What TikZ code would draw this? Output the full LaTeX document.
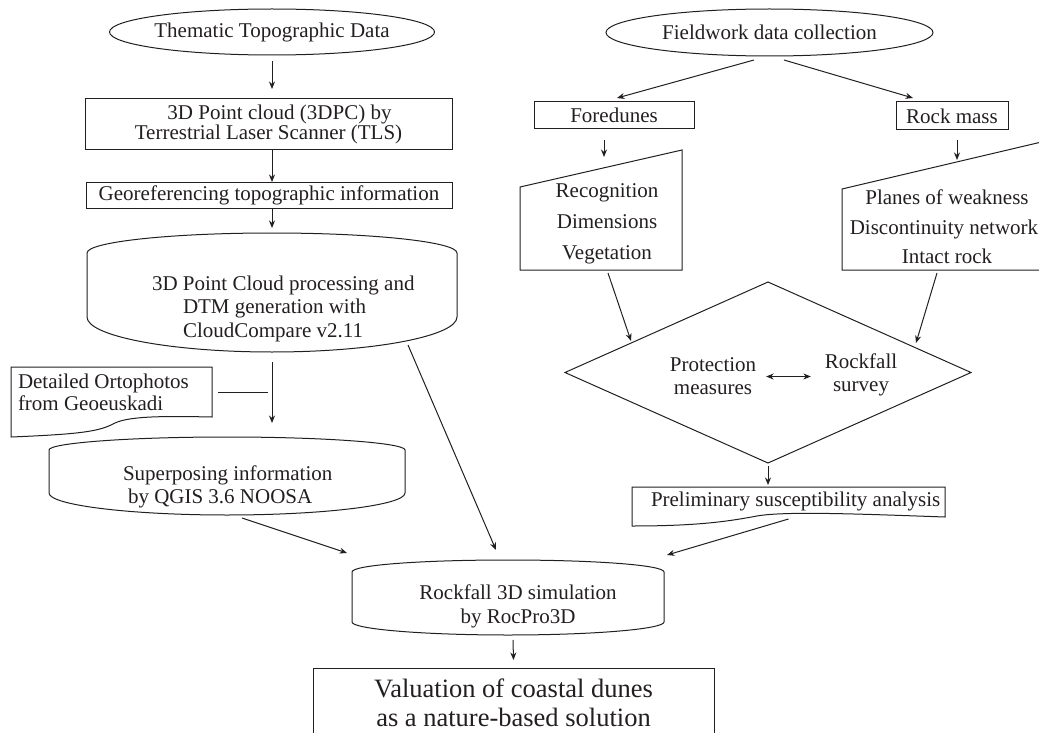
\documentclass[tikz,border=0pt]{standalone}
\usepackage{fontspec}
\setmainfont{Liberation Serif}
\usetikzlibrary{arrows.meta,calc,shapes.geometric}
\definecolor{ink}{RGB}{35,31,32}
\begin{document}
\begin{tikzpicture}[x=1pt,y=-1pt, color=ink, line width=1pt,
  font=\fontsize{21}{24}\selectfont,
  frame/.style={inner sep=0pt, outer sep=0pt},
  box/.style={draw, rectangle, inner sep=0pt, outer sep=0pt},
  txt/.style={inner sep=0pt, outer sep=0pt},
  arr/.style={-{Stealth[length=7.5pt,width=6pt]}},
  dbl/.style={{Stealth[length=7.5pt,width=6pt]}-{Stealth[length=7.5pt,width=6pt]}}]
\clip (0,0) rectangle (1039,733);

% ---------- left column ----------
\node[draw, ellipse, minimum width=325pt, minimum height=46pt, inner sep=0pt, outer sep=0pt] (E1) at (272,32) {};
\node[txt] (E1t) at (E1) {Thematic Topographic Data};

\node[box, minimum width=367pt, minimum height=51pt, align=center, font=\fontsize{21}{20}\selectfont] (B1) at (268.5,124.5) {\hspace*{22pt}3D Point cloud (3DPC) by\\Terrestrial Laser Scanner (TLS)};

\node[box, minimum width=366pt, minimum height=26pt] (B2) at (269,195) {Georeferencing topographic information};

\node[frame, minimum width=370pt, minimum height=119pt] (C1) at (272,292.5) {};
\draw (87,253) .. controls (87,242) and (170,233) .. (272,233) .. controls (374,233) and (457,242) .. (457,253) -- (457,317) .. controls (457,336) and (374,352) .. (272,352) .. controls (170,352) and (87,336) .. (87,317) -- cycle;
\node[txt, anchor=west, align=left, font=\fontsize{21}{23.5}\selectfont] (C1t) at (152,308.5) {3D Point Cloud processing and\\\hspace*{31pt}DTM generation with\\\hspace*{31pt}CloudCompare v2.11};

\node[frame, minimum width=201pt, minimum height=70pt] (D1) at (111.5,402) {};
\draw (11,367) -- (212,367) -- (212,417) .. controls (165,416) and (130,416) .. (115,423) .. controls (100,431) and (85,434) .. (11,437) -- cycle;
\node[txt, anchor=west, align=left, font=\fontsize{21}{22}\selectfont] (D1t) at (18,392) {Detailed Ortophotos\\from Geoeuskadi};

\node[frame, minimum width=356pt, minimum height=78pt] (C2) at (227,476) {};
\draw (49,450) .. controls (49,443) and (129,437) .. (227,437) .. controls (325,437) and (405,443) .. (405,450) -- (405,493) .. controls (405,505) and (325,515) .. (227,515) .. controls (129,515) and (49,505) .. (49,493) -- cycle;
\node[txt, anchor=west, align=left, font=\fontsize{21}{23}\selectfont] (C2t) at (123,486.5) {Superposing information\\\hspace*{5pt}by QGIS 3.6 NOOSA};

\node[frame, minimum width=312pt, minimum height=75pt] (C3) at (508,597.5) {};
\draw (352,572) .. controls (352,565) and (422,560) .. (508,560) .. controls (594,560) and (664,565) .. (664,572) -- (664,622) .. controls (664,629) and (594,635) .. (508,635) .. controls (422,635) and (352,629) .. (352,622) -- cycle;
\node[txt, align=center, font=\fontsize{21}{24}\selectfont] (C3t) at (518,606) {Rockfall 3D simulation\\by RocPro3D};

\node[box, minimum width=401pt, minimum height=69pt, align=center, font=\fontsize{26.5}{29}\selectfont] (F) at (513.5,702.5) {Valuation of coastal dunes\\as a nature-based solution};

% ---------- right column ----------
\node[draw, ellipse, minimum width=327pt, minimum height=47pt, inner sep=0pt, outer sep=0pt] (E2) at (769.5,32.5) {};
\node[txt] (E2t) at (E2) {Fieldwork data collection};

\node[box, minimum width=160pt, minimum height=27pt] (Fore) at (614,115.5) {Foredunes};
\node[box, minimum width=112pt, minimum height=28pt] (Rock) at (952,116) {Rock mass};

\node[frame, minimum width=162pt, minimum height=120pt] (M1) at (601,210) {};
\draw (M1.south west) -- ($(M1.north west)+(0,37)$) -- (M1.north east) -- (M1.south east) -- cycle;
\node[txt, align=center, font=\fontsize{21}{31}\selectfont] (M1t) at (607,224) {Recognition\\Dimensions\\Vegetation};

\node[frame, minimum width=208pt, minimum height=130pt] (M2) at (946,205) {};
\draw (M2.south west) -- ($(M2.north west)+(0,49)$) -- (M2.north east) -- (M2.south east) -- cycle;
\node[txt, align=center, font=\fontsize{21}{29.5}\selectfont] (M2t) at (944,227) {\hspace*{6pt}Planes of weakness\\Discontinuity network\\\hspace*{6pt}Intact rock};

\node[draw, diamond, minimum width=406pt, minimum height=181pt, inner sep=0pt, outer sep=0pt] (Dia) at (768,372.5) {};
\node[txt, align=center, font=\fontsize{21}{23}\selectfont] (Prot) at (713,376.5) {Protection\\measures};
\node[txt, align=center, font=\fontsize{21}{23}\selectfont] (Rockf) at (861,375) {Rockfall\\survey};

\node[frame, minimum width=313pt, minimum height=39pt] (D2) at (788.5,506.5) {};
\draw (632,487) -- (945,487) -- (945,517) .. controls (860,514) and (785,511) .. (757,516) .. controls (730,521) and (700,526) .. (632,526) -- cycle;
\node[txt, anchor=west] (D2t) at (651,501) {Preliminary susceptibility analysis};

% ---------- connectors ----------
\draw[arr] ($(E1.south)+(0,6)$) -- ($(B1.north -| E1.south)+(0,-10)$);
\draw[arr] (B1.south -| E1.south) -- (B2.north -| E1.south);
\draw[arr] (B2.south -| E1.south) -- ($(C1.north)+(0,-5)$);
\draw[arr] ($(C1.south)+(0,10)$) -- ($(C2.north -| C1.south)+(0,-14)$);
\coordinate (J) at (268,392);
\draw ($(D1.east)+(6,-10)$) -- (J);
\draw[arr] ($(C2.south)+(15,3)$) -- ($(C3.north west)+(-5,-7)$);
\draw[arr] ($(C1.south east)+(-49,-7)$) -- ($(C3.north)+(-12,-10)$);
\draw[arr] ($(D2.south)+(0,-7)$) -- ($(C3.north east)+(3,-5)$);
\draw[arr] ($(C3.south)+(5,5)$) -- ($(F.north)+(0,-8)$);

\draw[arr] ($(E2.south)+(-15.5,4)$) -- ($(Fore.north)+(3,-4)$);
\draw[arr] ($(E2.south)+(14.5,4)$) -- ($(Rock.north west)+(17,-4)$);
\draw[arr] ($(Fore.south)+(-10,11)$) -- ($(M1.north)+(3,7)$);
\draw[arr] ($(Rock.south)+(5,10)$) -- ($(M2.north)+(11,20)$);
\draw[arr] ($(M1.south)+(7,3)$) -- ($(Dia.west)+(66,-31.5)$);
\draw[arr] ($(M2.south)+(-9,3)$) -- ($(Dia.east)+(-55,-29.5)$);
\draw[arr] ($(Dia.south)+(0,3)$) -- ($(D2.north -| Dia.south)+(0,-2)$);
\draw[dbl] ($(Prot.east)+(10,0)$) -- ($(Rockf.west |- Prot.east)+(-14,0)$);
\end{tikzpicture}
\end{document}
